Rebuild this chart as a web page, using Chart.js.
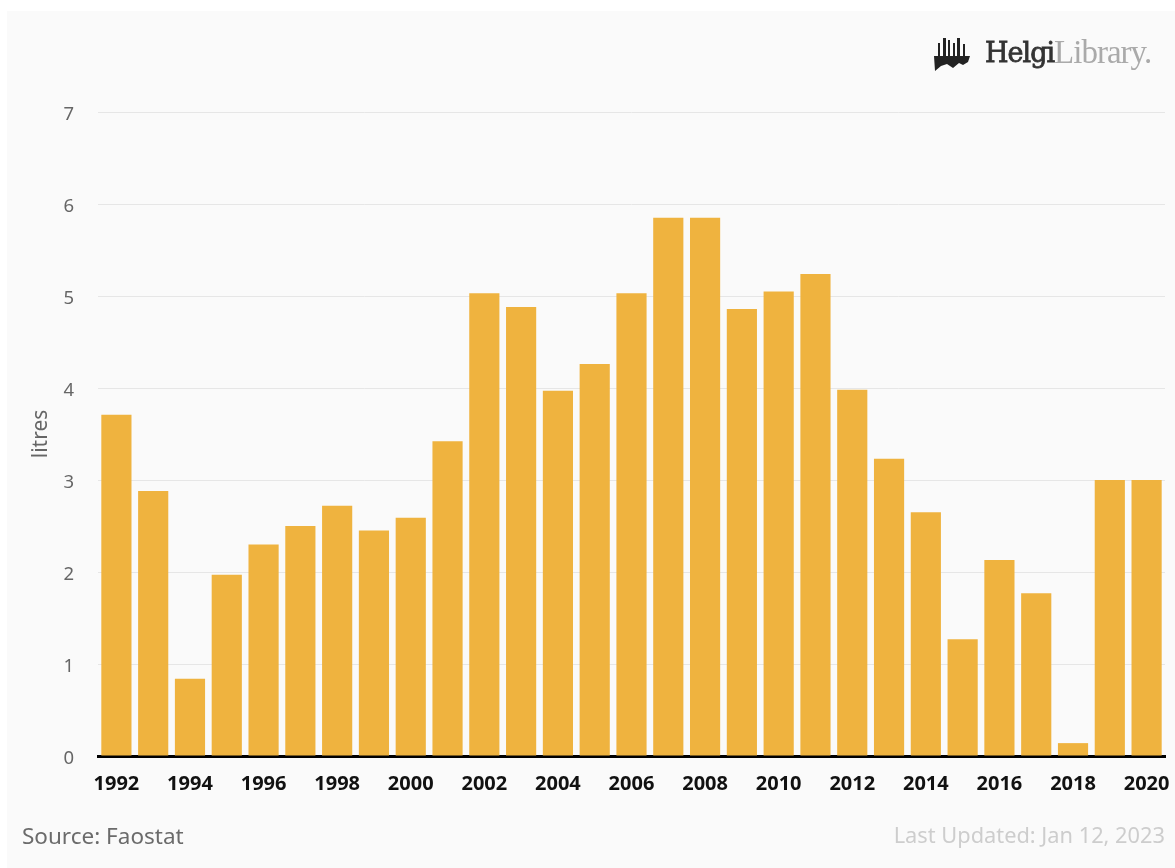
<!DOCTYPE html>
<html>
<head>
    <title>Litres by year</title>
    <script src="https://cdn.jsdelivr.net/npm/chart.js"></script>
    <style>
        html, body { margin: 0; padding: 0; background: #fff; overflow: hidden; }
        body { width: 1175px; height: 868px; position: relative; font-family: "Noto Sans", sans-serif; }
        .panel { position: absolute; left: 7px; top: 11px; right: 0; bottom: 0; background: #fafafa; }
        #chart { position: absolute; left: 0; top: 0; }
        .source { position: absolute; left: 22px; top: 820px; font-size: 22.5px; color: #6b6b6b; }
        .updated { position: absolute; right: 10px; top: 820px; font-size: 21.8px; color: #cdcdcd; }
        .logo { position: absolute; left: 933px; top: 32px; height: 40px; display: flex; align-items: center; font-family: "DejaVu Serif", serif; font-size: 27px; letter-spacing: -1px; }
        .logo svg { margin-right: 14px; }
        .logo b { color: #333; font-weight: 400; -webkit-text-stroke: 0.8px #333; }
        .logo span { color: #aaa; font-family: "Liberation Serif", serif; font-size: 33px; }
    </style>
</head>
<body>
    <div class="panel"></div>
    <canvas id="chart" width="1175" height="868"></canvas>

    <div class="logo">
        <svg width="38" height="40" viewBox="0 0 38 40">
            <g fill="#222">
                <rect x="5" y="11" width="2" height="13"/><rect x="10" y="6" width="3" height="18"/>
                <rect x="15" y="8" width="2" height="16"/><rect x="20" y="11" width="2" height="13"/>
                <rect x="24" y="6" width="3" height="18"/><rect x="30" y="12" width="2" height="12"/>
                <path d="M1 24 H37 L35 30 L30 33 L26 31 L20 36 L14 32 L8 34 L2 39 Z"/>
            </g>
        </svg>
        <b>Helgi</b><span>Library.</span>
    </div>

    <div class="source">Source: Faostat</div>
    <div class="updated">Last Updated: Jan 12, 2023</div>

    <script>
        const years = ['1992', '1993', '1994', '1995', '1996', '1997', '1998', '1999', '2000', '2001',
            '2002', '2003', '2004', '2005', '2006', '2007', '2008', '2009', '2010', '2011',
            '2012', '2013', '2014', '2015', '2016', '2017', '2018', '2019', '2020'];
        const litres = [3.71, 2.88, 0.84, 1.97, 2.30, 2.50, 2.72, 2.45, 2.59, 3.42,
            5.03, 4.88, 3.97, 4.26, 5.03, 5.85, 5.85, 4.86, 5.05, 5.24,
            3.98, 3.23, 2.65, 1.27, 2.13, 1.77, 0.14, 3.00, 3.00];
        const yMax = 7;

        const ctx = document.getElementById('chart').getContext('2d');
        new Chart(ctx, {
            type: 'bar',
            data: {
                labels: years,
                datasets: [{
                    label: 'litres',
                    data: litres,
                    backgroundColor: '#efb33f',
                    categoryPercentage: 0.82,
                    barPercentage: 1
                }]
            },
            options: {
                responsive: false,
                animation: false,
                layout: { padding: { top: 112, right: 10, left: 0, bottom: 0 } },
                plugins: { legend: { display: false }, tooltip: { enabled: false } },
                scales: {
                    x: {
                        z: 1,
                        grid: { display: false },
                        border: { color: '#000', width: 3 },
                        ticks: {
                            autoSkip: false,
                            maxRotation: 0,
                            padding: 8,
                            color: '#111',
                            font: { family: '"Noto Sans"', size: 20, weight: 'bold' },
                            // every other year is labelled
                            callback: function (value, index) {
                                return index % 2 === 0 ? years[index] : '';
                            }
                        },
                        // the end labels may hang past the plot edges
                        afterFit: function (scale) {
                            scale.height = 112;
                            scale.paddingLeft = 0;
                            scale.paddingRight = 0;
                        }
                    },
                    y: {
                        min: 0,
                        max: yMax,
                        grid: { color: '#e6e6e6', lineWidth: 1, drawTicks: false },
                        border: { display: false },
                        title: {
                            display: true,
                            text: 'litres',
                            color: '#666',
                            font: { family: '"Noto Sans"', size: 21 },
                            padding: { top: 28, bottom: 0 }
                        },
                        ticks: {
                            stepSize: 1,
                            padding: 24,
                            labelOffset: 3,
                            color: '#666',
                            font: { family: '"Noto Sans"', size: 18.5 }
                        },
                        afterFit: function (scale) { scale.width = 98; }
                    }
                }
            }
        });
    </script>
</body>
</html>
